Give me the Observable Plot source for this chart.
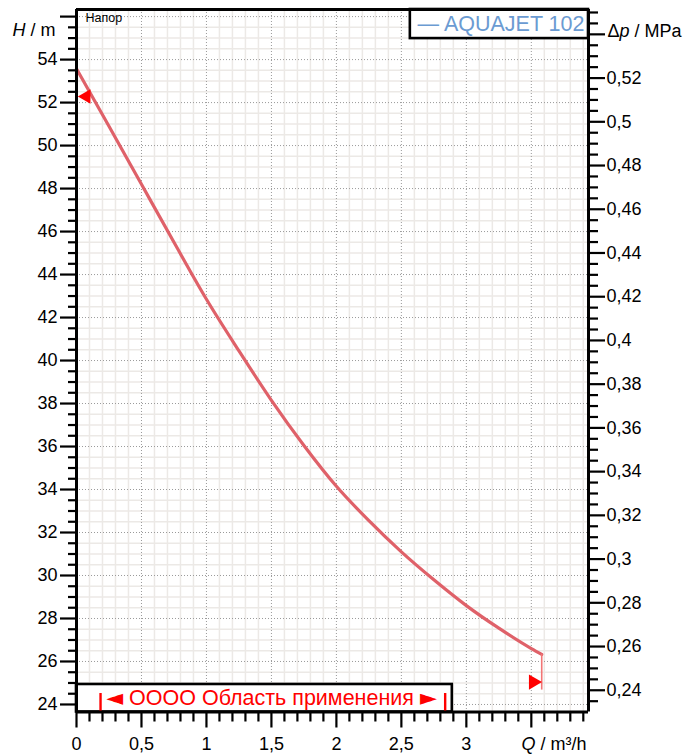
<!DOCTYPE html>
<html>
<head>
<meta charset="utf-8">
<script src="https://cdn.jsdelivr.net/npm/d3@7"></script>
<script src="https://cdn.jsdelivr.net/npm/@observablehq/plot@0.6"></script>
<style>
  html, body { margin: 0; padding: 0; background: #fff; }
  #chart { width: 694px; height: 754px; }
</style>
</head>
<body>
<div id="chart"></div>
<script>
// ---- data ----
const flowQ = [0, 0.25, 0.5, 0.75, 1, 1.25, 1.5, 1.75, 2, 2.25, 2.5, 2.75, 3, 3.25, 3.5, 3.58];
const headH = [53.57, 50.9, 48.2, 45.5, 42.85, 40.45, 38.15, 36.05, 34.15, 32.55, 31.1, 29.8, 28.6, 27.55, 26.6, 26.33];
const endDropH = 24.67;           // lower end of the vertical drop at the last point
const markerStart = {q: 0.075, h: 52.28};
const markerEnd = {q: 3.515, h: 25.04};
const rangeBars = [0.185, 2.837]; // application-range limits
const seriesName = "AQUAJET 102";
const rangeLabel = "◄ OOOO Область применения ►";
const topLabel = "Напор";

const xTicksMajor = [0, 0.5, 1, 1.5, 2, 2.5, 3, 3.5];
const xTickLabels = ["0", "0,5", "1", "1,5", "2", "2,5", "3", ""];
const yTicksMajor = [24, 26, 28, 30, 32, 34, 36, 38, 40, 42, 44, 46, 48, 50, 52, 54, 56];
const pTicksMajor = [0.24, 0.26, 0.28, 0.3, 0.32, 0.34, 0.36, 0.38, 0.4, 0.42, 0.44, 0.46, 0.48, 0.5, 0.52, 0.54];
const pTickLabels = ["0,24", "0,26", "0,28", "0,3", "0,32", "0,34", "0,36", "0,38", "0,4", "0,42", "0,44", "0,46", "0,48", "0,5", "0,52", ""];

// ---- scales ----
const xDom = [0, 3.94];
const yDom = [23.65, 56.33];
// secondary axis: pressure (MPa) -> head (m)
const pToH = p => 53.14 + (p - 0.52) * 101.71;

const data = flowQ.map((q, i) => ({q, h: headH[i]}));
const last = data[data.length - 1];

const xMinor = d3.range(1, 40).map(i => i / 10).filter(v => Math.abs(v * 2 - Math.round(v * 2)) > 1e-6 && v < xDom[1]);
const yMinor = d3.range(47, 113).map(i => i / 2).filter(v => v % 2 !== 0 && v > yDom[0] && v < yDom[1]);
const pMinor = d3.range(47, 111).map(i => i / 200).map(pToH).filter(h => h > yDom[0] && h < yDom[1]);

const gridMinor = "#ece9e6";
const gridMajor = "#9a9a9a";

const yLabelMap = new Map(yTicksMajor.map(v => [v, v === 56 ? "" : String(v)]));
const xLabelMap = new Map(xTicksMajor.map((v, i) => [v, xTickLabels[i]]));
const pH = pTicksMajor.map(pToH);
const pLabelMap = new Map(pH.map((h, i) => [h, pTickLabels[i]]));

const chart = Plot.plot({
  width: 694,
  height: 754,
  marginLeft: 76,
  marginRight: 106,
  marginTop: 9,
  marginBottom: 42.5,
  style: {fontFamily: "'Liberation Sans', Arial, sans-serif", fontSize: "18px", background: "#fff"},
  x: {domain: xDom},
  y: {domain: yDom},
  marks: [
    // grid
    Plot.ruleX(xMinor, {stroke: gridMinor, strokeWidth: 1.5}),
    Plot.ruleY(yMinor, {stroke: gridMinor, strokeWidth: 1.5}),
    Plot.ruleX(xTicksMajor.filter(d => d > 0), {stroke: gridMajor, strokeWidth: 1, strokeDasharray: "1,2"}),
    Plot.ruleY(yTicksMajor, {stroke: gridMajor, strokeWidth: 1, strokeDasharray: "1,2"}),
    // curve
    Plot.line(data, {x: "q", y: "h", curve: "monotone-x", stroke: "#df6169", strokeWidth: 3.2}),
    Plot.ruleX([last], {x: "q", y1: "h", y2: () => endDropH, stroke: "#f27575", strokeWidth: 1.6}),
    Plot.dot([markerStart], {x: "q", y: "h", symbol: "triangle", r: 5.4, rotate: -90, fill: "#ff0000", stroke: "none"}),
    Plot.dot([markerEnd], {x: "q", y: "h", symbol: "triangle", r: 5.6, rotate: 90, fill: "#ff0000", stroke: "none"}),
    // legend box (top right)
    Plot.rect([{x1: 2.569, x2: xDom[1], y1: 54.977, y2: yDom[1]}], {x1: "x1", x2: "x2", y1: "y1", y2: "y2", fill: "#fff", stroke: "#000", strokeWidth: 2.6}),
    Plot.text(["— " + seriesName], {frameAnchor: "top-right", lineAnchor: "middle", dx: -4, dy: 15, textAnchor: "end", fontSize: 21.5, fill: "#6b9bd2"}),
    // application range box (bottom left)
    Plot.rect([{x1: 0, x2: 2.892, y1: yDom[0], y2: 24.93}], {x1: "x1", x2: "x2", y1: "y1", y2: "y2", fill: "#fff", stroke: "#000", strokeWidth: 2.6}),
    Plot.ruleX(rangeBars, {y1: yDom[0], y2: 24.51, stroke: "#ff0000", strokeWidth: 2.4}),
    Plot.text([rangeLabel], {frameAnchor: "bottom-left", lineAnchor: "middle", dx: 195, dy: -13.5, textAnchor: "middle", fontSize: 21.5, fill: "#ff0000"}),
    // top-left label
    Plot.text([topLabel], {frameAnchor: "top-left", lineAnchor: "middle", dx: 9, dy: 8, textAnchor: "start", fontSize: 12.5, fill: "#000"}),
    // axes
    Plot.axisY(yTicksMajor, {anchor: "left", tickSize: 16, tickPadding: 3, strokeWidth: 2.2, fontSize: 18, tickFormat: d => yLabelMap.get(d), label: null}),
    Plot.axisY(yMinor, {anchor: "left", tickSize: 8, strokeWidth: 2.2, tickFormat: () => "", label: null}),
    Plot.axisY(pH, {anchor: "right", tickSize: 16, tickPadding: 2, strokeWidth: 2.2, fontSize: 18, tickFormat: d => pLabelMap.get(d), label: null}),
    Plot.axisY(pMinor.filter(h => !pH.some(m => Math.abs(m - h) < 1e-6)), {anchor: "right", tickSize: 9, strokeWidth: 2.2, tickFormat: () => "", label: null}),
    Plot.axisX(xTicksMajor, {anchor: "bottom", tickSize: 16, tickPadding: 9, strokeWidth: 2.2, fontSize: 18, tickFormat: d => xLabelMap.get(d), label: null}),
    Plot.axisX(xMinor, {anchor: "bottom", tickSize: 10, strokeWidth: 2.2, tickFormat: () => "", label: null}),
    // frame lines
    Plot.ruleX([xDom[0]], {stroke: "#000", strokeWidth: 3}),
    Plot.ruleX([xDom[1]], {stroke: "#000", strokeWidth: 3}),
    Plot.ruleY([yDom[0]], {stroke: "#000", strokeWidth: 3}),
    Plot.ruleY([yDom[1]], {stroke: "#000", strokeWidth: 3}),
    // axis titles
    Plot.text(["H / m"], {frameAnchor: "top-left", lineAnchor: "middle", dx: -21, dy: 21, textAnchor: "end", fontSize: 18, fill: "#000"}),
    Plot.text(["Δp / MPa"], {frameAnchor: "top-right", lineAnchor: "middle", dx: 19, dy: 22, textAnchor: "start", fontSize: 18, fill: "#000"}),
    Plot.text(["Q / m³/h"], {frameAnchor: "bottom-right", lineAnchor: "middle", dx: -2, dy: 32, textAnchor: "end", fontSize: 18, fill: "#000"})
  ]
});

// rich text: italic variable letters, larger pointer glyphs
d3.select(chart).selectAll("text").each(function() {
  const t = this.textContent;
  const sel = d3.select(this);
  if (t === "Δp / MPa") {
    sel.text("");
    sel.append("tspan").text("Δ");
    sel.append("tspan").attr("font-style", "italic").text("p");
    sel.append("tspan").text(" / MPa");
  } else if (t === "H / m" || t === "Q / m³/h") {
    sel.text("");
    sel.append("tspan").attr("font-style", "italic").text(t[0]);
    sel.append("tspan").text(t.slice(1));
  } else if (t === rangeLabel) {
    sel.text("");
    sel.append("tspan").attr("font-family", "'DejaVu Sans'").attr("font-size", 22).text("◄");
    sel.append("tspan").text(t.slice(1, -1));
    sel.append("tspan").attr("font-family", "'DejaVu Sans'").attr("font-size", 22).text("►");
  }
});

document.getElementById("chart").appendChild(chart);
</script>
</body>
</html>
